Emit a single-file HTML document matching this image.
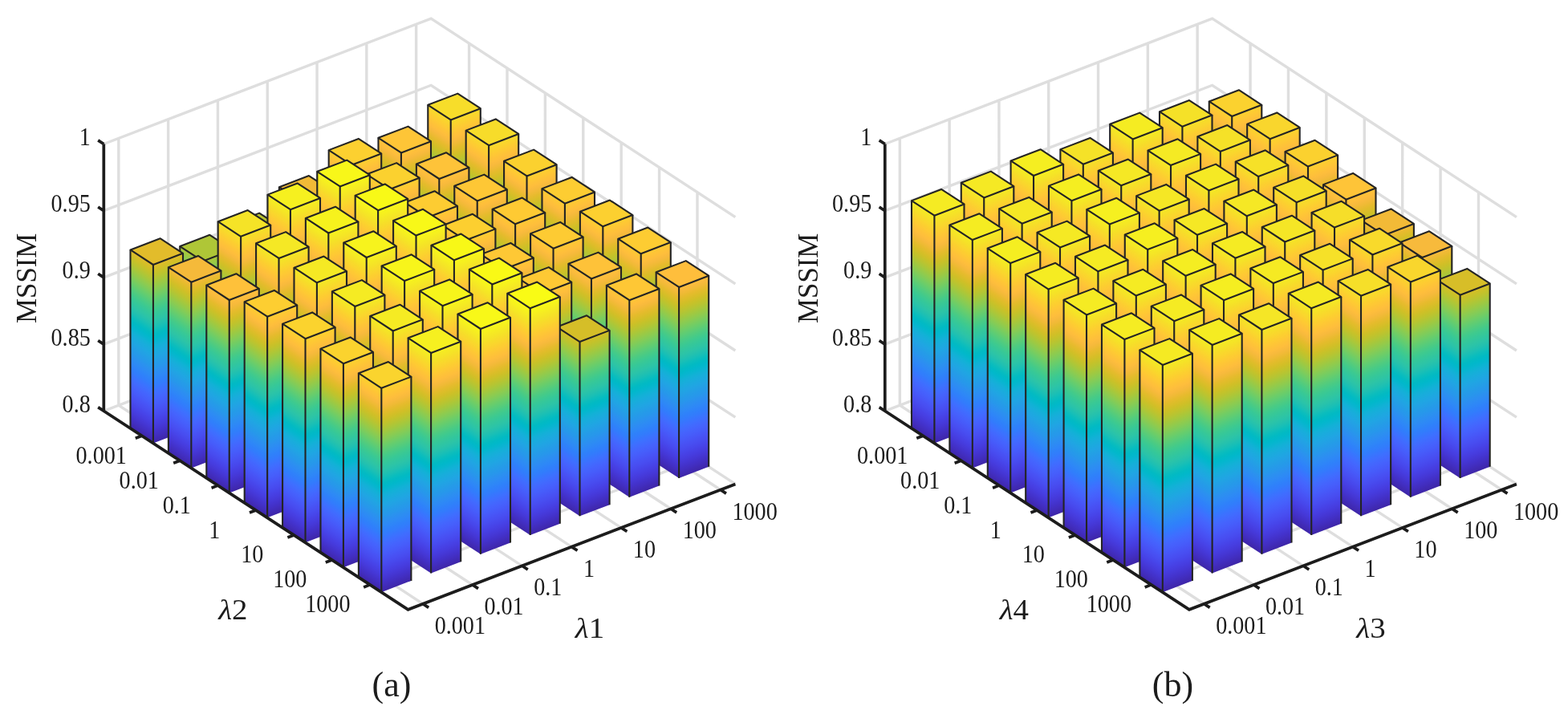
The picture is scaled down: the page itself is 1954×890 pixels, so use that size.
<!DOCTYPE html>
<html lang="en"><head><meta charset="utf-8"><title>MSSIM bar charts</title>
<style>html,body{margin:0;padding:0;background:#fff}body{width:1954px;height:890px;overflow:hidden}svg{display:block}.t{font-family:"Liberation Serif",serif;fill:#1c1c1c}.c{font-family:"Liberation Sans",sans-serif;fill:#1c1c1c}.g{stroke:#dedede;stroke-width:3.4;fill:none;stroke-linecap:butt}.a{stroke:#1c1c1c;stroke-width:3.7;fill:none;stroke-linecap:butt;stroke-linejoin:miter}.b .f{stroke:none}.b .e{stroke:#242424;stroke-width:2.1;stroke-linejoin:round;stroke-linecap:butt}</style></head><body>
<svg width="1954" height="890" viewBox="0 0 1954 890" role="img" aria-label="MSSIM 3D bar charts">
<rect width="1954" height="890" fill="#fff"/>
<defs>
<linearGradient id="gLa" gradientUnits="userSpaceOnUse" x1="0" y1="0" x2="129.480" y2="-198.363"><stop offset="0" stop-color="#3e26a8"/><stop offset="0.0159" stop-color="#402ab4"/><stop offset="0.0317" stop-color="#422ec0"/><stop offset="0.0476" stop-color="#4332cb"/><stop offset="0.0635" stop-color="#4537d5"/><stop offset="0.0794" stop-color="#463cde"/><stop offset="0.0952" stop-color="#4741e5"/><stop offset="0.1111" stop-color="#4747eb"/><stop offset="0.127" stop-color="#484df0"/><stop offset="0.1429" stop-color="#4852f4"/><stop offset="0.1587" stop-color="#4758f8"/><stop offset="0.1746" stop-color="#465efb"/><stop offset="0.1905" stop-color="#4563fd"/><stop offset="0.2063" stop-color="#4269fe"/><stop offset="0.2222" stop-color="#3e6fff"/><stop offset="0.2381" stop-color="#3875fe"/><stop offset="0.254" stop-color="#327cfc"/><stop offset="0.2698" stop-color="#2f81fa"/><stop offset="0.2857" stop-color="#2e87f7"/><stop offset="0.3016" stop-color="#2d8cf3"/><stop offset="0.3175" stop-color="#2b91ef"/><stop offset="0.3333" stop-color="#2797eb"/><stop offset="0.3492" stop-color="#259be8"/><stop offset="0.3651" stop-color="#23a0e5"/><stop offset="0.381" stop-color="#20a5e3"/><stop offset="0.3968" stop-color="#1ca9df"/><stop offset="0.4127" stop-color="#18addb"/><stop offset="0.4286" stop-color="#12b1d6"/><stop offset="0.4444" stop-color="#08b5d0"/><stop offset="0.4603" stop-color="#01b8ca"/><stop offset="0.4762" stop-color="#02bac3"/><stop offset="0.4921" stop-color="#0bbdbd"/><stop offset="0.5079" stop-color="#19bfb6"/><stop offset="0.5238" stop-color="#24c1ae"/><stop offset="0.5397" stop-color="#2cc4a7"/><stop offset="0.5556" stop-color="#31c69f"/><stop offset="0.5714" stop-color="#37c897"/><stop offset="0.5873" stop-color="#3fca8e"/><stop offset="0.6032" stop-color="#4acb84"/><stop offset="0.619" stop-color="#57cc7a"/><stop offset="0.6349" stop-color="#64cd6f"/><stop offset="0.6508" stop-color="#72cd64"/><stop offset="0.6667" stop-color="#81cc59"/><stop offset="0.6825" stop-color="#8fcb4e"/><stop offset="0.6984" stop-color="#9dc943"/><stop offset="0.7143" stop-color="#abc739"/><stop offset="0.7302" stop-color="#b9c431"/><stop offset="0.746" stop-color="#c5c22a"/><stop offset="0.7619" stop-color="#d1bf27"/><stop offset="0.7778" stop-color="#dcbd29"/><stop offset="0.7937" stop-color="#e6bb2d"/><stop offset="0.8095" stop-color="#f0ba36"/><stop offset="0.8254" stop-color="#f8ba3d"/><stop offset="0.8413" stop-color="#febe3c"/><stop offset="0.8571" stop-color="#fec338"/><stop offset="0.873" stop-color="#fec934"/><stop offset="0.8889" stop-color="#fccf30"/><stop offset="0.9048" stop-color="#fad62d"/><stop offset="0.9206" stop-color="#f7dc2a"/><stop offset="0.9365" stop-color="#f5e327"/><stop offset="0.9524" stop-color="#f5e924"/><stop offset="0.9683" stop-color="#f6ef20"/><stop offset="0.9841" stop-color="#f7f51b"/><stop offset="1" stop-color="#f9fb15"/></linearGradient>
<linearGradient id="gRa" gradientUnits="userSpaceOnUse" x1="0" y1="0" x2="-94.574" y2="-246.611"><stop offset="0" stop-color="#3e26a8"/><stop offset="0.0159" stop-color="#402ab4"/><stop offset="0.0317" stop-color="#422ec0"/><stop offset="0.0476" stop-color="#4332cb"/><stop offset="0.0635" stop-color="#4537d5"/><stop offset="0.0794" stop-color="#463cde"/><stop offset="0.0952" stop-color="#4741e5"/><stop offset="0.1111" stop-color="#4747eb"/><stop offset="0.127" stop-color="#484df0"/><stop offset="0.1429" stop-color="#4852f4"/><stop offset="0.1587" stop-color="#4758f8"/><stop offset="0.1746" stop-color="#465efb"/><stop offset="0.1905" stop-color="#4563fd"/><stop offset="0.2063" stop-color="#4269fe"/><stop offset="0.2222" stop-color="#3e6fff"/><stop offset="0.2381" stop-color="#3875fe"/><stop offset="0.254" stop-color="#327cfc"/><stop offset="0.2698" stop-color="#2f81fa"/><stop offset="0.2857" stop-color="#2e87f7"/><stop offset="0.3016" stop-color="#2d8cf3"/><stop offset="0.3175" stop-color="#2b91ef"/><stop offset="0.3333" stop-color="#2797eb"/><stop offset="0.3492" stop-color="#259be8"/><stop offset="0.3651" stop-color="#23a0e5"/><stop offset="0.381" stop-color="#20a5e3"/><stop offset="0.3968" stop-color="#1ca9df"/><stop offset="0.4127" stop-color="#18addb"/><stop offset="0.4286" stop-color="#12b1d6"/><stop offset="0.4444" stop-color="#08b5d0"/><stop offset="0.4603" stop-color="#01b8ca"/><stop offset="0.4762" stop-color="#02bac3"/><stop offset="0.4921" stop-color="#0bbdbd"/><stop offset="0.5079" stop-color="#19bfb6"/><stop offset="0.5238" stop-color="#24c1ae"/><stop offset="0.5397" stop-color="#2cc4a7"/><stop offset="0.5556" stop-color="#31c69f"/><stop offset="0.5714" stop-color="#37c897"/><stop offset="0.5873" stop-color="#3fca8e"/><stop offset="0.6032" stop-color="#4acb84"/><stop offset="0.619" stop-color="#57cc7a"/><stop offset="0.6349" stop-color="#64cd6f"/><stop offset="0.6508" stop-color="#72cd64"/><stop offset="0.6667" stop-color="#81cc59"/><stop offset="0.6825" stop-color="#8fcb4e"/><stop offset="0.6984" stop-color="#9dc943"/><stop offset="0.7143" stop-color="#abc739"/><stop offset="0.7302" stop-color="#b9c431"/><stop offset="0.746" stop-color="#c5c22a"/><stop offset="0.7619" stop-color="#d1bf27"/><stop offset="0.7778" stop-color="#dcbd29"/><stop offset="0.7937" stop-color="#e6bb2d"/><stop offset="0.8095" stop-color="#f0ba36"/><stop offset="0.8254" stop-color="#f8ba3d"/><stop offset="0.8413" stop-color="#febe3c"/><stop offset="0.8571" stop-color="#fec338"/><stop offset="0.873" stop-color="#fec934"/><stop offset="0.8889" stop-color="#fccf30"/><stop offset="0.9048" stop-color="#fad62d"/><stop offset="0.9206" stop-color="#f7dc2a"/><stop offset="0.9365" stop-color="#f5e327"/><stop offset="0.9524" stop-color="#f5e924"/><stop offset="0.9683" stop-color="#f6ef20"/><stop offset="0.9841" stop-color="#f7f51b"/><stop offset="1" stop-color="#f9fb15"/></linearGradient>
<linearGradient id="gLb" gradientUnits="userSpaceOnUse" x1="0" y1="0" x2="135.573" y2="-207.698"><stop offset="0" stop-color="#3e26a8"/><stop offset="0.0159" stop-color="#402ab4"/><stop offset="0.0317" stop-color="#422ec0"/><stop offset="0.0476" stop-color="#4332cb"/><stop offset="0.0635" stop-color="#4537d5"/><stop offset="0.0794" stop-color="#463cde"/><stop offset="0.0952" stop-color="#4741e5"/><stop offset="0.1111" stop-color="#4747eb"/><stop offset="0.127" stop-color="#484df0"/><stop offset="0.1429" stop-color="#4852f4"/><stop offset="0.1587" stop-color="#4758f8"/><stop offset="0.1746" stop-color="#465efb"/><stop offset="0.1905" stop-color="#4563fd"/><stop offset="0.2063" stop-color="#4269fe"/><stop offset="0.2222" stop-color="#3e6fff"/><stop offset="0.2381" stop-color="#3875fe"/><stop offset="0.254" stop-color="#327cfc"/><stop offset="0.2698" stop-color="#2f81fa"/><stop offset="0.2857" stop-color="#2e87f7"/><stop offset="0.3016" stop-color="#2d8cf3"/><stop offset="0.3175" stop-color="#2b91ef"/><stop offset="0.3333" stop-color="#2797eb"/><stop offset="0.3492" stop-color="#259be8"/><stop offset="0.3651" stop-color="#23a0e5"/><stop offset="0.381" stop-color="#20a5e3"/><stop offset="0.3968" stop-color="#1ca9df"/><stop offset="0.4127" stop-color="#18addb"/><stop offset="0.4286" stop-color="#12b1d6"/><stop offset="0.4444" stop-color="#08b5d0"/><stop offset="0.4603" stop-color="#01b8ca"/><stop offset="0.4762" stop-color="#02bac3"/><stop offset="0.4921" stop-color="#0bbdbd"/><stop offset="0.5079" stop-color="#19bfb6"/><stop offset="0.5238" stop-color="#24c1ae"/><stop offset="0.5397" stop-color="#2cc4a7"/><stop offset="0.5556" stop-color="#31c69f"/><stop offset="0.5714" stop-color="#37c897"/><stop offset="0.5873" stop-color="#3fca8e"/><stop offset="0.6032" stop-color="#4acb84"/><stop offset="0.619" stop-color="#57cc7a"/><stop offset="0.6349" stop-color="#64cd6f"/><stop offset="0.6508" stop-color="#72cd64"/><stop offset="0.6667" stop-color="#81cc59"/><stop offset="0.6825" stop-color="#8fcb4e"/><stop offset="0.6984" stop-color="#9dc943"/><stop offset="0.7143" stop-color="#abc739"/><stop offset="0.7302" stop-color="#b9c431"/><stop offset="0.746" stop-color="#c5c22a"/><stop offset="0.7619" stop-color="#d1bf27"/><stop offset="0.7778" stop-color="#dcbd29"/><stop offset="0.7937" stop-color="#e6bb2d"/><stop offset="0.8095" stop-color="#f0ba36"/><stop offset="0.8254" stop-color="#f8ba3d"/><stop offset="0.8413" stop-color="#febe3c"/><stop offset="0.8571" stop-color="#fec338"/><stop offset="0.873" stop-color="#fec934"/><stop offset="0.8889" stop-color="#fccf30"/><stop offset="0.9048" stop-color="#fad62d"/><stop offset="0.9206" stop-color="#f7dc2a"/><stop offset="0.9365" stop-color="#f5e327"/><stop offset="0.9524" stop-color="#f5e924"/><stop offset="0.9683" stop-color="#f6ef20"/><stop offset="0.9841" stop-color="#f7f51b"/><stop offset="1" stop-color="#f9fb15"/></linearGradient>
<linearGradient id="gRb" gradientUnits="userSpaceOnUse" x1="0" y1="0" x2="-99.025" y2="-258.216"><stop offset="0" stop-color="#3e26a8"/><stop offset="0.0159" stop-color="#402ab4"/><stop offset="0.0317" stop-color="#422ec0"/><stop offset="0.0476" stop-color="#4332cb"/><stop offset="0.0635" stop-color="#4537d5"/><stop offset="0.0794" stop-color="#463cde"/><stop offset="0.0952" stop-color="#4741e5"/><stop offset="0.1111" stop-color="#4747eb"/><stop offset="0.127" stop-color="#484df0"/><stop offset="0.1429" stop-color="#4852f4"/><stop offset="0.1587" stop-color="#4758f8"/><stop offset="0.1746" stop-color="#465efb"/><stop offset="0.1905" stop-color="#4563fd"/><stop offset="0.2063" stop-color="#4269fe"/><stop offset="0.2222" stop-color="#3e6fff"/><stop offset="0.2381" stop-color="#3875fe"/><stop offset="0.254" stop-color="#327cfc"/><stop offset="0.2698" stop-color="#2f81fa"/><stop offset="0.2857" stop-color="#2e87f7"/><stop offset="0.3016" stop-color="#2d8cf3"/><stop offset="0.3175" stop-color="#2b91ef"/><stop offset="0.3333" stop-color="#2797eb"/><stop offset="0.3492" stop-color="#259be8"/><stop offset="0.3651" stop-color="#23a0e5"/><stop offset="0.381" stop-color="#20a5e3"/><stop offset="0.3968" stop-color="#1ca9df"/><stop offset="0.4127" stop-color="#18addb"/><stop offset="0.4286" stop-color="#12b1d6"/><stop offset="0.4444" stop-color="#08b5d0"/><stop offset="0.4603" stop-color="#01b8ca"/><stop offset="0.4762" stop-color="#02bac3"/><stop offset="0.4921" stop-color="#0bbdbd"/><stop offset="0.5079" stop-color="#19bfb6"/><stop offset="0.5238" stop-color="#24c1ae"/><stop offset="0.5397" stop-color="#2cc4a7"/><stop offset="0.5556" stop-color="#31c69f"/><stop offset="0.5714" stop-color="#37c897"/><stop offset="0.5873" stop-color="#3fca8e"/><stop offset="0.6032" stop-color="#4acb84"/><stop offset="0.619" stop-color="#57cc7a"/><stop offset="0.6349" stop-color="#64cd6f"/><stop offset="0.6508" stop-color="#72cd64"/><stop offset="0.6667" stop-color="#81cc59"/><stop offset="0.6825" stop-color="#8fcb4e"/><stop offset="0.6984" stop-color="#9dc943"/><stop offset="0.7143" stop-color="#abc739"/><stop offset="0.7302" stop-color="#b9c431"/><stop offset="0.746" stop-color="#c5c22a"/><stop offset="0.7619" stop-color="#d1bf27"/><stop offset="0.7778" stop-color="#dcbd29"/><stop offset="0.7937" stop-color="#e6bb2d"/><stop offset="0.8095" stop-color="#f0ba36"/><stop offset="0.8254" stop-color="#f8ba3d"/><stop offset="0.8413" stop-color="#febe3c"/><stop offset="0.8571" stop-color="#fec338"/><stop offset="0.873" stop-color="#fec934"/><stop offset="0.8889" stop-color="#fccf30"/><stop offset="0.9048" stop-color="#fad62d"/><stop offset="0.9206" stop-color="#f7dc2a"/><stop offset="0.9365" stop-color="#f5e327"/><stop offset="0.9524" stop-color="#f5e924"/><stop offset="0.9683" stop-color="#f6ef20"/><stop offset="0.9841" stop-color="#f7f51b"/><stop offset="1" stop-color="#f9fb15"/></linearGradient>
</defs>
<g id="chart-a">
<path class="g" d="M129.3 429.1 L537.18 272.68 L916.38 520.2 M129.3 345.9 L537.18 189.48 L916.38 437 M129.3 262.7 L537.18 106.28 L916.38 353.8 M129.3 179.5 L537.18 23.08 L916.38 270.6 M527.04 752.71 L147.84 505.19 L147.84 172.39 M588.84 729.01 L209.64 481.49 L209.64 148.69 M650.64 705.31 L271.44 457.79 L271.44 124.99 M712.44 681.61 L333.24 434.09 L333.24 101.29 M774.24 657.91 L395.04 410.39 L395.04 77.59 M836.04 634.21 L456.84 386.69 L456.84 53.89 M897.84 610.51 L518.64 362.99 L518.64 30.19 M176.7 543.24 L584.58 386.82 L584.58 54.02 M224.1 574.18 L631.98 417.76 L631.98 84.96 M271.5 605.12 L679.38 448.7 L679.38 115.9 M318.9 636.06 L726.78 479.64 L726.78 146.84 M366.3 667 L774.18 510.58 L774.18 177.78 M413.7 697.94 L821.58 541.52 L821.58 208.72 M461.1 728.88 L868.98 572.46 L868.98 239.66 M129.3 512.3 L537.18 355.88 L916.38 603.4"/>
<g class="b">
<g transform="translate(561.72,410.32)"><path class="f" fill="url(#gLa)" d="M0 0L-28.44 -18.56 L-28.44 -279.49 L0 -260.92 Z"/><path class="f" fill="url(#gRa)" d="M0 0L37.08 -14.22 L37.08 -275.14 L0 -260.92 Z"/><path class="e" fill="#f7dd2a" d="M0 -260.92 L37.08 -275.14 L8.64 -293.71 L-28.44 -279.49 Z"/><path class="e" fill="none" d="M-28.44 -18.56 L-28.44 -279.49 M0 0L0 -260.92 M37.08 -14.22 L37.08 -275.14"/></g>
<g transform="translate(499.92,434.02)"><path class="f" fill="url(#gLa)" d="M0 0L-28.44 -18.56 L-28.44 -262.19 L0 -243.62 Z"/><path class="f" fill="url(#gRa)" d="M0 0L37.08 -14.22 L37.08 -257.84 L0 -243.62 Z"/><path class="e" fill="#fec537" d="M0 -243.62 L37.08 -257.84 L8.64 -276.41 L-28.44 -262.19 Z"/><path class="e" fill="none" d="M-28.44 -18.56 L-28.44 -262.19 M0 0L0 -243.62 M37.08 -14.22 L37.08 -257.84"/></g>
<g transform="translate(438.12,457.72)"><path class="f" fill="url(#gLa)" d="M0 0L-28.44 -18.56 L-28.44 -270.59 L0 -252.02 Z"/><path class="f" fill="url(#gRa)" d="M0 0L37.08 -14.22 L37.08 -266.24 L0 -252.02 Z"/><path class="e" fill="#fcd030" d="M0 -252.02 L37.08 -266.24 L8.64 -284.81 L-28.44 -270.59 Z"/><path class="e" fill="none" d="M-28.44 -18.56 L-28.44 -270.59 M0 0L0 -252.02 M37.08 -14.22 L37.08 -266.24"/></g>
<g transform="translate(376.32,481.42)"><path class="f" fill="url(#gLa)" d="M0 0L-28.44 -18.56 L-28.44 -248.19 L0 -229.62 Z"/><path class="f" fill="url(#gRa)" d="M0 0L37.08 -14.22 L37.08 -243.84 L0 -229.62 Z"/><path class="e" fill="#f1ba37" d="M0 -229.62 L37.08 -243.84 L8.64 -262.41 L-28.44 -248.19 Z"/><path class="e" fill="none" d="M-28.44 -18.56 L-28.44 -248.19 M0 0L0 -229.62 M37.08 -14.22 L37.08 -243.84"/></g>
<g transform="translate(314.52,505.12)"><path class="f" fill="url(#gLa)" d="M0 0L-28.44 -18.56 L-28.44 -225.29 L0 -206.72 Z"/><path class="f" fill="url(#gRa)" d="M0 0L37.08 -14.22 L37.08 -220.94 L0 -206.72 Z"/><path class="e" fill="#b9c430" d="M0 -206.72 L37.08 -220.94 L8.64 -239.51 L-28.44 -225.29 Z"/><path class="e" fill="none" d="M-28.44 -18.56 L-28.44 -225.29 M0 0L0 -206.72 M37.08 -14.22 L37.08 -220.94"/></g>
<g transform="translate(252.72,528.82)"><path class="f" fill="url(#gLa)" d="M0 0L-28.44 -18.56 L-28.44 -221.79 L0 -203.22 Z"/><path class="f" fill="url(#gRa)" d="M0 0L37.08 -14.22 L37.08 -217.44 L0 -203.22 Z"/><path class="e" fill="#afc637" d="M0 -203.22 L37.08 -217.44 L8.64 -236.01 L-28.44 -221.79 Z"/><path class="e" fill="none" d="M-28.44 -18.56 L-28.44 -221.79 M0 0L0 -203.22 M37.08 -14.22 L37.08 -217.44"/></g>
<g transform="translate(190.92,552.52)"><path class="f" fill="url(#gLa)" d="M0 0L-28.44 -18.56 L-28.44 -241.09 L0 -222.52 Z"/><path class="f" fill="url(#gRa)" d="M0 0L37.08 -14.22 L37.08 -236.74 L0 -222.52 Z"/><path class="e" fill="#e2bc2b" d="M0 -222.52 L37.08 -236.74 L8.64 -255.31 L-28.44 -241.09 Z"/><path class="e" fill="none" d="M-28.44 -18.56 L-28.44 -241.09 M0 0L0 -222.52 M37.08 -14.22 L37.08 -236.74"/></g>
<g transform="translate(609.12,441.26)"><path class="f" fill="url(#gLa)" d="M0 0L-28.44 -18.56 L-28.44 -278.63 L0 -260.06 Z"/><path class="f" fill="url(#gRa)" d="M0 0L37.08 -14.22 L37.08 -274.28 L0 -260.06 Z"/><path class="e" fill="#f7dc2a" d="M0 -260.06 L37.08 -274.28 L8.64 -292.85 L-28.44 -278.63 Z"/><path class="e" fill="none" d="M-28.44 -18.56 L-28.44 -278.63 M0 0L0 -260.06 M37.08 -14.22 L37.08 -274.28"/></g>
<g transform="translate(547.32,464.96)"><path class="f" fill="url(#gLa)" d="M0 0L-28.44 -18.56 L-28.44 -260.53 L0 -241.96 Z"/><path class="f" fill="url(#gRa)" d="M0 0L37.08 -14.22 L37.08 -256.18 L0 -241.96 Z"/><path class="e" fill="#fec339" d="M0 -241.96 L37.08 -256.18 L8.64 -274.75 L-28.44 -260.53 Z"/><path class="e" fill="none" d="M-28.44 -18.56 L-28.44 -260.53 M0 0L0 -241.96 M37.08 -14.22 L37.08 -256.18"/></g>
<g transform="translate(485.52,488.66)"><path class="f" fill="url(#gLa)" d="M0 0L-28.44 -18.56 L-28.44 -271.33 L0 -252.76 Z"/><path class="f" fill="url(#gRa)" d="M0 0L37.08 -14.22 L37.08 -266.98 L0 -252.76 Z"/><path class="e" fill="#fbd12f" d="M0 -252.76 L37.08 -266.98 L8.64 -285.55 L-28.44 -271.33 Z"/><path class="e" fill="none" d="M-28.44 -18.56 L-28.44 -271.33 M0 0L0 -252.76 M37.08 -14.22 L37.08 -266.98"/></g>
<g transform="translate(423.72,512.36)"><path class="f" fill="url(#gLa)" d="M0 0L-28.44 -18.56 L-28.44 -298.53 L0 -279.96 Z"/><path class="f" fill="url(#gRa)" d="M0 0L37.08 -14.22 L37.08 -294.18 L0 -279.96 Z"/><path class="e" fill="#f8f719" d="M0 -279.96 L37.08 -294.18 L8.64 -312.75 L-28.44 -298.53 Z"/><path class="e" fill="none" d="M-28.44 -18.56 L-28.44 -298.53 M0 0L0 -279.96 M37.08 -14.22 L37.08 -294.18"/></g>
<g transform="translate(361.92,536.06)"><path class="f" fill="url(#gLa)" d="M0 0L-28.44 -18.56 L-28.44 -293.43 L0 -274.86 Z"/><path class="f" fill="url(#gRa)" d="M0 0L37.08 -14.22 L37.08 -289.08 L0 -274.86 Z"/><path class="e" fill="#f6f01f" d="M0 -274.86 L37.08 -289.08 L8.64 -307.65 L-28.44 -293.43 Z"/><path class="e" fill="none" d="M-28.44 -18.56 L-28.44 -293.43 M0 0L0 -274.86 M37.08 -14.22 L37.08 -289.08"/></g>
<g transform="translate(300.12,559.76)"><path class="f" fill="url(#gLa)" d="M0 0L-28.44 -18.56 L-28.44 -283.53 L0 -264.96 Z"/><path class="f" fill="url(#gRa)" d="M0 0L37.08 -14.22 L37.08 -279.18 L0 -264.96 Z"/><path class="e" fill="#f5e327" d="M0 -264.96 L37.08 -279.18 L8.64 -297.75 L-28.44 -283.53 Z"/><path class="e" fill="none" d="M-28.44 -18.56 L-28.44 -283.53 M0 0L0 -264.96 M37.08 -14.22 L37.08 -279.18"/></g>
<g transform="translate(238.32,583.46)"><path class="f" fill="url(#gLa)" d="M0 0L-28.44 -18.56 L-28.44 -250.33 L0 -231.76 Z"/><path class="f" fill="url(#gRa)" d="M0 0L37.08 -14.22 L37.08 -245.98 L0 -231.76 Z"/><path class="e" fill="#f5ba3a" d="M0 -231.76 L37.08 -245.98 L8.64 -264.55 L-28.44 -250.33 Z"/><path class="e" fill="none" d="M-28.44 -18.56 L-28.44 -250.33 M0 0L0 -231.76 M37.08 -14.22 L37.08 -245.98"/></g>
<g transform="translate(656.52,472.2)"><path class="f" fill="url(#gLa)" d="M0 0L-28.44 -18.56 L-28.44 -271.37 L0 -252.8 Z"/><path class="f" fill="url(#gRa)" d="M0 0L37.08 -14.22 L37.08 -267.02 L0 -252.8 Z"/><path class="e" fill="#fbd12f" d="M0 -252.8 L37.08 -267.02 L8.64 -285.59 L-28.44 -271.37 Z"/><path class="e" fill="none" d="M-28.44 -18.56 L-28.44 -271.37 M0 0L0 -252.8 M37.08 -14.22 L37.08 -267.02"/></g>
<g transform="translate(594.72,495.9)"><path class="f" fill="url(#gLa)" d="M0 0L-28.44 -18.56 L-28.44 -264.07 L0 -245.5 Z"/><path class="f" fill="url(#gRa)" d="M0 0L37.08 -14.22 L37.08 -259.72 L0 -245.5 Z"/><path class="e" fill="#fec735" d="M0 -245.5 L37.08 -259.72 L8.64 -278.29 L-28.44 -264.07 Z"/><path class="e" fill="none" d="M-28.44 -18.56 L-28.44 -264.07 M0 0L0 -245.5 M37.08 -14.22 L37.08 -259.72"/></g>
<g transform="translate(532.92,519.6)"><path class="f" fill="url(#gLa)" d="M0 0L-28.44 -18.56 L-28.44 -267.17 L0 -248.6 Z"/><path class="f" fill="url(#gRa)" d="M0 0L37.08 -14.22 L37.08 -262.82 L0 -248.6 Z"/><path class="e" fill="#fdcc32" d="M0 -248.6 L37.08 -262.82 L8.64 -281.39 L-28.44 -267.17 Z"/><path class="e" fill="none" d="M-28.44 -18.56 L-28.44 -267.17 M0 0L0 -248.6 M37.08 -14.22 L37.08 -262.82"/></g>
<g transform="translate(471.12,543.3)"><path class="f" fill="url(#gLa)" d="M0 0L-28.44 -18.56 L-28.44 -299.67 L0 -281.1 Z"/><path class="f" fill="url(#gRa)" d="M0 0L37.08 -14.22 L37.08 -295.32 L0 -281.1 Z"/><path class="e" fill="#f8f917" d="M0 -281.1 L37.08 -295.32 L8.64 -313.89 L-28.44 -299.67 Z"/><path class="e" fill="none" d="M-28.44 -18.56 L-28.44 -299.67 M0 0L0 -281.1 M37.08 -14.22 L37.08 -295.32"/></g>
<g transform="translate(409.32,567)"><path class="f" fill="url(#gLa)" d="M0 0L-28.44 -18.56 L-28.44 -295.07 L0 -276.5 Z"/><path class="f" fill="url(#gRa)" d="M0 0L37.08 -14.22 L37.08 -290.72 L0 -276.5 Z"/><path class="e" fill="#f6f21d" d="M0 -276.5 L37.08 -290.72 L8.64 -309.29 L-28.44 -295.07 Z"/><path class="e" fill="none" d="M-28.44 -18.56 L-28.44 -295.07 M0 0L0 -276.5 M37.08 -14.22 L37.08 -290.72"/></g>
<g transform="translate(347.52,590.7)"><path class="f" fill="url(#gLa)" d="M0 0L-28.44 -18.56 L-28.44 -287.37 L0 -268.8 Z"/><path class="f" fill="url(#gRa)" d="M0 0L37.08 -14.22 L37.08 -283.02 L0 -268.8 Z"/><path class="e" fill="#f5e825" d="M0 -268.8 L37.08 -283.02 L8.64 -301.59 L-28.44 -287.37 Z"/><path class="e" fill="none" d="M-28.44 -18.56 L-28.44 -287.37 M0 0L0 -268.8 M37.08 -14.22 L37.08 -283.02"/></g>
<g transform="translate(285.72,614.4)"><path class="f" fill="url(#gLa)" d="M0 0L-28.44 -18.56 L-28.44 -258.97 L0 -240.4 Z"/><path class="f" fill="url(#gRa)" d="M0 0L37.08 -14.22 L37.08 -254.62 L0 -240.4 Z"/><path class="e" fill="#fec13a" d="M0 -240.4 L37.08 -254.62 L8.64 -273.19 L-28.44 -258.97 Z"/><path class="e" fill="none" d="M-28.44 -18.56 L-28.44 -258.97 M0 0L0 -240.4 M37.08 -14.22 L37.08 -254.62"/></g>
<g transform="translate(703.92,503.14)"><path class="f" fill="url(#gLa)" d="M0 0L-28.44 -18.56 L-28.44 -268.01 L0 -249.44 Z"/><path class="f" fill="url(#gRa)" d="M0 0L37.08 -14.22 L37.08 -263.66 L0 -249.44 Z"/><path class="e" fill="#fdcd32" d="M0 -249.44 L37.08 -263.66 L8.64 -282.23 L-28.44 -268.01 Z"/><path class="e" fill="none" d="M-28.44 -18.56 L-28.44 -268.01 M0 0L0 -249.44 M37.08 -14.22 L37.08 -263.66"/></g>
<g transform="translate(642.12,526.84)"><path class="f" fill="url(#gLa)" d="M0 0L-28.44 -18.56 L-28.44 -266.11 L0 -247.54 Z"/><path class="f" fill="url(#gRa)" d="M0 0L37.08 -14.22 L37.08 -261.76 L0 -247.54 Z"/><path class="e" fill="#feca33" d="M0 -247.54 L37.08 -261.76 L8.64 -280.33 L-28.44 -266.11 Z"/><path class="e" fill="none" d="M-28.44 -18.56 L-28.44 -266.11 M0 0L0 -247.54 M37.08 -14.22 L37.08 -261.76"/></g>
<g transform="translate(580.32,550.54)"><path class="f" fill="url(#gLa)" d="M0 0L-28.44 -18.56 L-28.44 -269.51 L0 -250.94 Z"/><path class="f" fill="url(#gRa)" d="M0 0L37.08 -14.22 L37.08 -265.16 L0 -250.94 Z"/><path class="e" fill="#fccf30" d="M0 -250.94 L37.08 -265.16 L8.64 -283.73 L-28.44 -269.51 Z"/><path class="e" fill="none" d="M-28.44 -18.56 L-28.44 -269.51 M0 0L0 -250.94 M37.08 -14.22 L37.08 -265.16"/></g>
<g transform="translate(518.52,574.24)"><path class="f" fill="url(#gLa)" d="M0 0L-28.44 -18.56 L-28.44 -299.21 L0 -280.64 Z"/><path class="f" fill="url(#gRa)" d="M0 0L37.08 -14.22 L37.08 -294.86 L0 -280.64 Z"/><path class="e" fill="#f8f818" d="M0 -280.64 L37.08 -294.86 L8.64 -313.43 L-28.44 -299.21 Z"/><path class="e" fill="none" d="M-28.44 -18.56 L-28.44 -299.21 M0 0L0 -280.64 M37.08 -14.22 L37.08 -294.86"/></g>
<g transform="translate(456.72,597.94)"><path class="f" fill="url(#gLa)" d="M0 0L-28.44 -18.56 L-28.44 -295.51 L0 -276.94 Z"/><path class="f" fill="url(#gRa)" d="M0 0L37.08 -14.22 L37.08 -291.16 L0 -276.94 Z"/><path class="e" fill="#f7f31d" d="M0 -276.94 L37.08 -291.16 L8.64 -309.73 L-28.44 -295.51 Z"/><path class="e" fill="none" d="M-28.44 -18.56 L-28.44 -295.51 M0 0L0 -276.94 M37.08 -14.22 L37.08 -291.16"/></g>
<g transform="translate(394.92,621.64)"><path class="f" fill="url(#gLa)" d="M0 0L-28.44 -18.56 L-28.44 -287.91 L0 -269.34 Z"/><path class="f" fill="url(#gRa)" d="M0 0L37.08 -14.22 L37.08 -283.56 L0 -269.34 Z"/><path class="e" fill="#f5e924" d="M0 -269.34 L37.08 -283.56 L8.64 -302.13 L-28.44 -287.91 Z"/><path class="e" fill="none" d="M-28.44 -18.56 L-28.44 -287.91 M0 0L0 -269.34 M37.08 -14.22 L37.08 -283.56"/></g>
<g transform="translate(333.12,645.34)"><path class="f" fill="url(#gLa)" d="M0 0L-28.44 -18.56 L-28.44 -269.21 L0 -250.64 Z"/><path class="f" fill="url(#gRa)" d="M0 0L37.08 -14.22 L37.08 -264.86 L0 -250.64 Z"/><path class="e" fill="#fdce31" d="M0 -250.64 L37.08 -264.86 L8.64 -283.43 L-28.44 -269.21 Z"/><path class="e" fill="none" d="M-28.44 -18.56 L-28.44 -269.21 M0 0L0 -250.64 M37.08 -14.22 L37.08 -264.86"/></g>
<g transform="translate(751.32,534.08)"><path class="f" fill="url(#gLa)" d="M0 0L-28.44 -18.56 L-28.44 -270.35 L0 -251.78 Z"/><path class="f" fill="url(#gRa)" d="M0 0L37.08 -14.22 L37.08 -266 L0 -251.78 Z"/><path class="e" fill="#fcd030" d="M0 -251.78 L37.08 -266 L8.64 -284.57 L-28.44 -270.35 Z"/><path class="e" fill="none" d="M-28.44 -18.56 L-28.44 -270.35 M0 0L0 -251.78 M37.08 -14.22 L37.08 -266"/></g>
<g transform="translate(689.52,557.78)"><path class="f" fill="url(#gLa)" d="M0 0L-28.44 -18.56 L-28.44 -266.65 L0 -248.08 Z"/><path class="f" fill="url(#gRa)" d="M0 0L37.08 -14.22 L37.08 -262.3 L0 -248.08 Z"/><path class="e" fill="#fdcb33" d="M0 -248.08 L37.08 -262.3 L8.64 -280.87 L-28.44 -266.65 Z"/><path class="e" fill="none" d="M-28.44 -18.56 L-28.44 -266.65 M0 0L0 -248.08 M37.08 -14.22 L37.08 -262.3"/></g>
<g transform="translate(627.72,581.48)"><path class="f" fill="url(#gLa)" d="M0 0L-28.44 -18.56 L-28.44 -264.35 L0 -245.78 Z"/><path class="f" fill="url(#gRa)" d="M0 0L37.08 -14.22 L37.08 -260 L0 -245.78 Z"/><path class="e" fill="#fec835" d="M0 -245.78 L37.08 -260 L8.64 -278.57 L-28.44 -264.35 Z"/><path class="e" fill="none" d="M-28.44 -18.56 L-28.44 -264.35 M0 0L0 -245.78 M37.08 -14.22 L37.08 -260"/></g>
<g transform="translate(565.92,605.18)"><path class="f" fill="url(#gLa)" d="M0 0L-28.44 -18.56 L-28.44 -299.45 L0 -280.88 Z"/><path class="f" fill="url(#gRa)" d="M0 0L37.08 -14.22 L37.08 -295.1 L0 -280.88 Z"/><path class="e" fill="#f8f817" d="M0 -280.88 L37.08 -295.1 L8.64 -313.67 L-28.44 -299.45 Z"/><path class="e" fill="none" d="M-28.44 -18.56 L-28.44 -299.45 M0 0L0 -280.88 M37.08 -14.22 L37.08 -295.1"/></g>
<g transform="translate(504.12,628.88)"><path class="f" fill="url(#gLa)" d="M0 0L-28.44 -18.56 L-28.44 -297.35 L0 -278.78 Z"/><path class="f" fill="url(#gRa)" d="M0 0L37.08 -14.22 L37.08 -293 L0 -278.78 Z"/><path class="e" fill="#f7f51b" d="M0 -278.78 L37.08 -293 L8.64 -311.57 L-28.44 -297.35 Z"/><path class="e" fill="none" d="M-28.44 -18.56 L-28.44 -297.35 M0 0L0 -278.78 M37.08 -14.22 L37.08 -293"/></g>
<g transform="translate(442.32,652.58)"><path class="f" fill="url(#gLa)" d="M0 0L-28.44 -18.56 L-28.44 -289.25 L0 -270.68 Z"/><path class="f" fill="url(#gRa)" d="M0 0L37.08 -14.22 L37.08 -284.9 L0 -270.68 Z"/><path class="e" fill="#f5eb23" d="M0 -270.68 L37.08 -284.9 L8.64 -303.47 L-28.44 -289.25 Z"/><path class="e" fill="none" d="M-28.44 -18.56 L-28.44 -289.25 M0 0L0 -270.68 M37.08 -14.22 L37.08 -284.9"/></g>
<g transform="translate(380.52,676.28)"><path class="f" fill="url(#gLa)" d="M0 0L-28.44 -18.56 L-28.44 -272.65 L0 -254.08 Z"/><path class="f" fill="url(#gRa)" d="M0 0L37.08 -14.22 L37.08 -268.3 L0 -254.08 Z"/><path class="e" fill="#fbd32e" d="M0 -254.08 L37.08 -268.3 L8.64 -286.87 L-28.44 -272.65 Z"/><path class="e" fill="none" d="M-28.44 -18.56 L-28.44 -272.65 M0 0L0 -254.08 M37.08 -14.22 L37.08 -268.3"/></g>
<g transform="translate(798.72,565.02)"><path class="f" fill="url(#gLa)" d="M0 0L-28.44 -18.56 L-28.44 -267.29 L0 -248.72 Z"/><path class="f" fill="url(#gRa)" d="M0 0L37.08 -14.22 L37.08 -262.94 L0 -248.72 Z"/><path class="e" fill="#fdcc32" d="M0 -248.72 L37.08 -262.94 L8.64 -281.51 L-28.44 -267.29 Z"/><path class="e" fill="none" d="M-28.44 -18.56 L-28.44 -267.29 M0 0L0 -248.72 M37.08 -14.22 L37.08 -262.94"/></g>
<g transform="translate(736.92,588.72)"><path class="f" fill="url(#gLa)" d="M0 0L-28.44 -18.56 L-28.44 -259.89 L0 -241.32 Z"/><path class="f" fill="url(#gRa)" d="M0 0L37.08 -14.22 L37.08 -255.54 L0 -241.32 Z"/><path class="e" fill="#fec239" d="M0 -241.32 L37.08 -255.54 L8.64 -274.11 L-28.44 -259.89 Z"/><path class="e" fill="none" d="M-28.44 -18.56 L-28.44 -259.89 M0 0L0 -241.32 M37.08 -14.22 L37.08 -255.54"/></g>
<g transform="translate(675.12,612.42)"><path class="f" fill="url(#gLa)" d="M0 0L-28.44 -18.56 L-28.44 -265.09 L0 -246.52 Z"/><path class="f" fill="url(#gRa)" d="M0 0L37.08 -14.22 L37.08 -260.74 L0 -246.52 Z"/><path class="e" fill="#fec934" d="M0 -246.52 L37.08 -260.74 L8.64 -279.31 L-28.44 -265.09 Z"/><path class="e" fill="none" d="M-28.44 -18.56 L-28.44 -265.09 M0 0L0 -246.52 M37.08 -14.22 L37.08 -260.74"/></g>
<g transform="translate(613.32,636.12)"><path class="f" fill="url(#gLa)" d="M0 0L-28.44 -18.56 L-28.44 -300.29 L0 -281.72 Z"/><path class="f" fill="url(#gRa)" d="M0 0L37.08 -14.22 L37.08 -295.94 L0 -281.72 Z"/><path class="e" fill="#f9f916" d="M0 -281.72 L37.08 -295.94 L8.64 -314.51 L-28.44 -300.29 Z"/><path class="e" fill="none" d="M-28.44 -18.56 L-28.44 -300.29 M0 0L0 -281.72 M37.08 -14.22 L37.08 -295.94"/></g>
<g transform="translate(551.52,659.82)"><path class="f" fill="url(#gLa)" d="M0 0L-28.44 -18.56 L-28.44 -297.19 L0 -278.62 Z"/><path class="f" fill="url(#gRa)" d="M0 0L37.08 -14.22 L37.08 -292.84 L0 -278.62 Z"/><path class="e" fill="#f7f51b" d="M0 -278.62 L37.08 -292.84 L8.64 -311.41 L-28.44 -297.19 Z"/><path class="e" fill="none" d="M-28.44 -18.56 L-28.44 -297.19 M0 0L0 -278.62 M37.08 -14.22 L37.08 -292.84"/></g>
<g transform="translate(489.72,683.52)"><path class="f" fill="url(#gLa)" d="M0 0L-28.44 -18.56 L-28.44 -289.59 L0 -271.02 Z"/><path class="f" fill="url(#gRa)" d="M0 0L37.08 -14.22 L37.08 -285.24 L0 -271.02 Z"/><path class="e" fill="#f5eb23" d="M0 -271.02 L37.08 -285.24 L8.64 -303.81 L-28.44 -289.59 Z"/><path class="e" fill="none" d="M-28.44 -18.56 L-28.44 -289.59 M0 0L0 -271.02 M37.08 -14.22 L37.08 -285.24"/></g>
<g transform="translate(427.92,707.22)"><path class="f" fill="url(#gLa)" d="M0 0L-28.44 -18.56 L-28.44 -272.59 L0 -254.02 Z"/><path class="f" fill="url(#gRa)" d="M0 0L37.08 -14.22 L37.08 -268.24 L0 -254.02 Z"/><path class="e" fill="#fbd32e" d="M0 -254.02 L37.08 -268.24 L8.64 -286.81 L-28.44 -272.59 Z"/><path class="e" fill="none" d="M-28.44 -18.56 L-28.44 -272.59 M0 0L0 -254.02 M37.08 -14.22 L37.08 -268.24"/></g>
<g transform="translate(846.12,595.96)"><path class="f" fill="url(#gLa)" d="M0 0L-28.44 -18.56 L-28.44 -256.63 L0 -238.06 Z"/><path class="f" fill="url(#gRa)" d="M0 0L37.08 -14.22 L37.08 -252.28 L0 -238.06 Z"/><path class="e" fill="#febe3c" d="M0 -238.06 L37.08 -252.28 L8.64 -270.85 L-28.44 -256.63 Z"/><path class="e" fill="none" d="M-28.44 -18.56 L-28.44 -256.63 M0 0L0 -238.06 M37.08 -14.22 L37.08 -252.28"/></g>
<g transform="translate(784.32,619.66)"><path class="f" fill="url(#gLa)" d="M0 0L-28.44 -18.56 L-28.44 -264.03 L0 -245.46 Z"/><path class="f" fill="url(#gRa)" d="M0 0L37.08 -14.22 L37.08 -259.68 L0 -245.46 Z"/><path class="e" fill="#fec735" d="M0 -245.46 L37.08 -259.68 L8.64 -278.25 L-28.44 -264.03 Z"/><path class="e" fill="none" d="M-28.44 -18.56 L-28.44 -264.03 M0 0L0 -245.46 M37.08 -14.22 L37.08 -259.68"/></g>
<g transform="translate(722.52,643.36)"><path class="f" fill="url(#gLa)" d="M0 0L-28.44 -18.56 L-28.44 -235.83 L0 -217.26 Z"/><path class="f" fill="url(#gRa)" d="M0 0L37.08 -14.22 L37.08 -231.48 L0 -217.26 Z"/><path class="e" fill="#d5be28" d="M0 -217.26 L37.08 -231.48 L8.64 -250.05 L-28.44 -235.83 Z"/><path class="e" fill="none" d="M-28.44 -18.56 L-28.44 -235.83 M0 0L0 -217.26 M37.08 -14.22 L37.08 -231.48"/></g>
<g transform="translate(660.72,667.06)"><path class="f" fill="url(#gLa)" d="M0 0L-28.44 -18.56 L-28.44 -301.33 L0 -282.76 Z"/><path class="f" fill="url(#gRa)" d="M0 0L37.08 -14.22 L37.08 -296.98 L0 -282.76 Z"/><path class="e" fill="#f9fb15" d="M0 -282.76 L37.08 -296.98 L8.64 -315.55 L-28.44 -301.33 Z"/><path class="e" fill="none" d="M-28.44 -18.56 L-28.44 -301.33 M0 0L0 -282.76 M37.08 -14.22 L37.08 -296.98"/></g>
<g transform="translate(598.92,690.76)"><path class="f" fill="url(#gLa)" d="M0 0L-28.44 -18.56 L-28.44 -299.33 L0 -280.76 Z"/><path class="f" fill="url(#gRa)" d="M0 0L37.08 -14.22 L37.08 -294.98 L0 -280.76 Z"/><path class="e" fill="#f8f818" d="M0 -280.76 L37.08 -294.98 L8.64 -313.55 L-28.44 -299.33 Z"/><path class="e" fill="none" d="M-28.44 -18.56 L-28.44 -299.33 M0 0L0 -280.76 M37.08 -14.22 L37.08 -294.98"/></g>
<g transform="translate(537.12,714.46)"><path class="f" fill="url(#gLa)" d="M0 0L-28.44 -18.56 L-28.44 -293.13 L0 -274.56 Z"/><path class="f" fill="url(#gRa)" d="M0 0L37.08 -14.22 L37.08 -288.78 L0 -274.56 Z"/><path class="e" fill="#f6f020" d="M0 -274.56 L37.08 -288.78 L8.64 -307.35 L-28.44 -293.13 Z"/><path class="e" fill="none" d="M-28.44 -18.56 L-28.44 -293.13 M0 0L0 -274.56 M37.08 -14.22 L37.08 -288.78"/></g>
<g transform="translate(475.32,738.16)"><path class="f" fill="url(#gLa)" d="M0 0L-28.44 -18.56 L-28.44 -272.93 L0 -254.36 Z"/><path class="f" fill="url(#gRa)" d="M0 0L37.08 -14.22 L37.08 -268.58 L0 -254.36 Z"/><path class="e" fill="#fad42e" d="M0 -254.36 L37.08 -268.58 L8.64 -287.15 L-28.44 -272.93 Z"/><path class="e" fill="none" d="M-28.44 -18.56 L-28.44 -272.93 M0 0L0 -254.36 M37.08 -14.22 L37.08 -268.58"/></g>
</g>
<path class="a" d="M129.3 179.5 L129.3 512.3 L508.5 759.82 L916.38 603.4 M129.3 512.3 L122.18 507.65 M129.3 429.1 L122.18 424.45 M129.3 345.9 L122.18 341.25 M129.3 262.7 L122.18 258.05 M129.3 179.5 L122.18 174.85 M176.7 543.24 L168.76 546.28 M224.1 574.18 L216.16 577.22 M271.5 605.12 L263.56 608.16 M318.9 636.06 L310.96 639.1 M366.3 667 L358.36 670.04 M413.7 697.94 L405.76 700.98 M461.1 728.88 L453.16 731.92 M527.04 752.71 L534.16 757.36 M588.84 729.01 L595.96 733.66 M650.64 705.31 L657.76 709.96 M712.44 681.61 L719.56 686.26 M774.24 657.91 L781.36 662.56 M836.04 634.21 L843.16 638.86 M897.84 610.51 L904.96 615.16"/>
<text class="t" transform="translate(112.8,513.8) scale(0.880,1)" font-size="32" text-anchor="end">0.8</text>
<text class="t" transform="translate(112.8,430.6) scale(0.880,1)" font-size="32" text-anchor="end">0.85</text>
<text class="t" transform="translate(112.8,347.4) scale(0.880,1)" font-size="32" text-anchor="end">0.9</text>
<text class="t" transform="translate(112.8,264.2) scale(0.880,1)" font-size="32" text-anchor="end">0.95</text>
<text class="t" transform="translate(112.8,181) scale(0.880,1)" font-size="32" text-anchor="end">1</text>
<text class="t" transform="translate(126.2,578.14) scale(0.880,1)" font-size="32" text-anchor="middle">0.001</text>
<text class="t" transform="translate(173.22,608.93) scale(0.880,1)" font-size="32" text-anchor="middle">0.01</text>
<text class="t" transform="translate(220.24,639.72) scale(0.880,1)" font-size="32" text-anchor="middle">0.1</text>
<text class="t" transform="translate(267.26,670.51) scale(0.880,1)" font-size="32" text-anchor="middle">1</text>
<text class="t" transform="translate(314.28,701.3) scale(0.880,1)" font-size="32" text-anchor="middle">10</text>
<text class="t" transform="translate(361.3,732.09) scale(0.880,1)" font-size="32" text-anchor="middle">100</text>
<text class="t" transform="translate(408.32,762.88) scale(0.880,1)" font-size="32" text-anchor="middle">1000</text>
<text class="t" transform="translate(541.64,789.71) scale(0.880,1)" font-size="32" text-anchor="start">0.001</text>
<text class="t" transform="translate(603.44,766.01) scale(0.880,1)" font-size="32" text-anchor="start">0.01</text>
<text class="t" transform="translate(665.24,742.31) scale(0.880,1)" font-size="32" text-anchor="start">0.1</text>
<text class="t" transform="translate(727.04,718.61) scale(0.880,1)" font-size="32" text-anchor="start">1</text>
<text class="t" transform="translate(788.84,694.91) scale(0.880,1)" font-size="32" text-anchor="start">10</text>
<text class="t" transform="translate(850.64,671.21) scale(0.880,1)" font-size="32" text-anchor="start">100</text>
<text class="t" transform="translate(912.44,647.51) scale(0.880,1)" font-size="32" text-anchor="start">1000</text>
<text class="t" transform="translate(735,794.8) scale(1.080,1)" font-size="36" text-anchor="middle"><tspan font-style="italic">λ</tspan>1</text>
<text class="t" transform="translate(290.4,771.9) scale(1.080,1)" font-size="36" text-anchor="middle"><tspan font-style="italic">λ</tspan>2</text>
<text class="t" transform="translate(45.3,346.8) rotate(-90)" font-size="34.8" text-anchor="middle">MSSIM</text>
<text class="t" x="488" y="868.1" font-size="44" text-anchor="middle">(a)</text>
</g>
<g id="chart-b">
<path class="g" d="M1102.8 429.1 L1510.68 272.68 L1889.88 520.2 M1102.8 345.9 L1510.68 189.48 L1889.88 437 M1102.8 262.7 L1510.68 106.28 L1889.88 353.8 M1102.8 179.5 L1510.68 23.08 L1889.88 270.6 M1500.54 752.71 L1121.34 505.19 L1121.34 172.39 M1562.34 729.01 L1183.14 481.49 L1183.14 148.69 M1624.14 705.31 L1244.94 457.79 L1244.94 124.99 M1685.94 681.61 L1306.74 434.09 L1306.74 101.29 M1747.74 657.91 L1368.54 410.39 L1368.54 77.59 M1809.54 634.21 L1430.34 386.69 L1430.34 53.89 M1871.34 610.51 L1492.14 362.99 L1492.14 30.19 M1150.2 543.24 L1558.08 386.82 L1558.08 54.02 M1197.6 574.18 L1605.48 417.76 L1605.48 84.96 M1245 605.12 L1652.88 448.7 L1652.88 115.9 M1292.4 636.06 L1700.28 479.64 L1700.28 146.84 M1339.8 667 L1747.68 510.58 L1747.68 177.78 M1387.2 697.94 L1795.08 541.52 L1795.08 208.72 M1434.6 728.88 L1842.48 572.46 L1842.48 239.66 M1102.8 512.3 L1510.68 355.88 L1889.88 603.4"/>
<g class="b">
<g transform="translate(1535.22,410.32)"><path class="f" fill="url(#gLb)" d="M0 0L-28.44 -18.56 L-28.44 -283.89 L0 -265.32 Z"/><path class="f" fill="url(#gRb)" d="M0 0L37.08 -14.22 L37.08 -279.54 L0 -265.32 Z"/><path class="e" fill="#fbd22f" d="M0 -265.32 L37.08 -279.54 L8.64 -298.11 L-28.44 -283.89 Z"/><path class="e" fill="none" d="M-28.44 -18.56 L-28.44 -283.89 M0 0L0 -265.32 M37.08 -14.22 L37.08 -279.54"/></g>
<g transform="translate(1473.42,434.02)"><path class="f" fill="url(#gLb)" d="M0 0L-28.44 -18.56 L-28.44 -294.79 L0 -276.22 Z"/><path class="f" fill="url(#gRb)" d="M0 0L37.08 -14.22 L37.08 -290.44 L0 -276.22 Z"/><path class="e" fill="#f5e128" d="M0 -276.22 L37.08 -290.44 L8.64 -309.01 L-28.44 -294.79 Z"/><path class="e" fill="none" d="M-28.44 -18.56 L-28.44 -294.79 M0 0L0 -276.22 M37.08 -14.22 L37.08 -290.44"/></g>
<g transform="translate(1411.62,457.72)"><path class="f" fill="url(#gLb)" d="M0 0L-28.44 -18.56 L-28.44 -302.89 L0 -284.32 Z"/><path class="f" fill="url(#gRb)" d="M0 0L37.08 -14.22 L37.08 -298.54 L0 -284.32 Z"/><path class="e" fill="#f5ec22" d="M0 -284.32 L37.08 -298.54 L8.64 -317.11 L-28.44 -302.89 Z"/><path class="e" fill="none" d="M-28.44 -18.56 L-28.44 -302.89 M0 0L0 -284.32 M37.08 -14.22 L37.08 -298.54"/></g>
<g transform="translate(1349.82,481.42)"><path class="f" fill="url(#gLb)" d="M0 0L-28.44 -18.56 L-28.44 -295.29 L0 -276.72 Z"/><path class="f" fill="url(#gRb)" d="M0 0L37.08 -14.22 L37.08 -290.94 L0 -276.72 Z"/><path class="e" fill="#f5e228" d="M0 -276.72 L37.08 -290.94 L8.64 -309.51 L-28.44 -295.29 Z"/><path class="e" fill="none" d="M-28.44 -18.56 L-28.44 -295.29 M0 0L0 -276.72 M37.08 -14.22 L37.08 -290.94"/></g>
<g transform="translate(1288.02,505.12)"><path class="f" fill="url(#gLb)" d="M0 0L-28.44 -18.56 L-28.44 -304.69 L0 -286.12 Z"/><path class="f" fill="url(#gRb)" d="M0 0L37.08 -14.22 L37.08 -300.34 L0 -286.12 Z"/><path class="e" fill="#f5ee21" d="M0 -286.12 L37.08 -300.34 L8.64 -318.91 L-28.44 -304.69 Z"/><path class="e" fill="none" d="M-28.44 -18.56 L-28.44 -304.69 M0 0L0 -286.12 M37.08 -14.22 L37.08 -300.34"/></g>
<g transform="translate(1226.22,528.82)"><path class="f" fill="url(#gLb)" d="M0 0L-28.44 -18.56 L-28.44 -300.99 L0 -282.42 Z"/><path class="f" fill="url(#gRb)" d="M0 0L37.08 -14.22 L37.08 -296.64 L0 -282.42 Z"/><path class="e" fill="#f5e924" d="M0 -282.42 L37.08 -296.64 L8.64 -315.21 L-28.44 -300.99 Z"/><path class="e" fill="none" d="M-28.44 -18.56 L-28.44 -300.99 M0 0L0 -282.42 M37.08 -14.22 L37.08 -296.64"/></g>
<g transform="translate(1164.42,552.52)"><path class="f" fill="url(#gLb)" d="M0 0L-28.44 -18.56 L-28.44 -302.39 L0 -283.82 Z"/><path class="f" fill="url(#gRb)" d="M0 0L37.08 -14.22 L37.08 -298.04 L0 -283.82 Z"/><path class="e" fill="#f5eb23" d="M0 -283.82 L37.08 -298.04 L8.64 -316.61 L-28.44 -302.39 Z"/><path class="e" fill="none" d="M-28.44 -18.56 L-28.44 -302.39 M0 0L0 -283.82 M37.08 -14.22 L37.08 -298.04"/></g>
<g transform="translate(1582.62,441.26)"><path class="f" fill="url(#gLb)" d="M0 0L-28.44 -18.56 L-28.44 -286.63 L0 -268.06 Z"/><path class="f" fill="url(#gRb)" d="M0 0L37.08 -14.22 L37.08 -282.28 L0 -268.06 Z"/><path class="e" fill="#f9d62d" d="M0 -268.06 L37.08 -282.28 L8.64 -300.85 L-28.44 -286.63 Z"/><path class="e" fill="none" d="M-28.44 -18.56 L-28.44 -286.63 M0 0L0 -268.06 M37.08 -14.22 L37.08 -282.28"/></g>
<g transform="translate(1520.82,464.96)"><path class="f" fill="url(#gLb)" d="M0 0L-28.44 -18.56 L-28.44 -294.73 L0 -276.16 Z"/><path class="f" fill="url(#gRb)" d="M0 0L37.08 -14.22 L37.08 -290.38 L0 -276.16 Z"/><path class="e" fill="#f5e128" d="M0 -276.16 L37.08 -290.38 L8.64 -308.95 L-28.44 -294.73 Z"/><path class="e" fill="none" d="M-28.44 -18.56 L-28.44 -294.73 M0 0L0 -276.16 M37.08 -14.22 L37.08 -290.38"/></g>
<g transform="translate(1459.02,488.66)"><path class="f" fill="url(#gLb)" d="M0 0L-28.44 -18.56 L-28.44 -301.13 L0 -282.56 Z"/><path class="f" fill="url(#gRb)" d="M0 0L37.08 -14.22 L37.08 -296.78 L0 -282.56 Z"/><path class="e" fill="#f5ea24" d="M0 -282.56 L37.08 -296.78 L8.64 -315.35 L-28.44 -301.13 Z"/><path class="e" fill="none" d="M-28.44 -18.56 L-28.44 -301.13 M0 0L0 -282.56 M37.08 -14.22 L37.08 -296.78"/></g>
<g transform="translate(1397.22,512.36)"><path class="f" fill="url(#gLb)" d="M0 0L-28.44 -18.56 L-28.44 -299.63 L0 -281.06 Z"/><path class="f" fill="url(#gRb)" d="M0 0L37.08 -14.22 L37.08 -295.28 L0 -281.06 Z"/><path class="e" fill="#f5e825" d="M0 -281.06 L37.08 -295.28 L8.64 -313.85 L-28.44 -299.63 Z"/><path class="e" fill="none" d="M-28.44 -18.56 L-28.44 -299.63 M0 0L0 -281.06 M37.08 -14.22 L37.08 -295.28"/></g>
<g transform="translate(1335.42,536.06)"><path class="f" fill="url(#gLb)" d="M0 0L-28.44 -18.56 L-28.44 -304.43 L0 -285.86 Z"/><path class="f" fill="url(#gRb)" d="M0 0L37.08 -14.22 L37.08 -300.08 L0 -285.86 Z"/><path class="e" fill="#f5ee21" d="M0 -285.86 L37.08 -300.08 L8.64 -318.65 L-28.44 -304.43 Z"/><path class="e" fill="none" d="M-28.44 -18.56 L-28.44 -304.43 M0 0L0 -285.86 M37.08 -14.22 L37.08 -300.08"/></g>
<g transform="translate(1273.62,559.76)"><path class="f" fill="url(#gLb)" d="M0 0L-28.44 -18.56 L-28.44 -299.63 L0 -281.06 Z"/><path class="f" fill="url(#gRb)" d="M0 0L37.08 -14.22 L37.08 -295.28 L0 -281.06 Z"/><path class="e" fill="#f5e825" d="M0 -281.06 L37.08 -295.28 L8.64 -313.85 L-28.44 -299.63 Z"/><path class="e" fill="none" d="M-28.44 -18.56 L-28.44 -299.63 M0 0L0 -281.06 M37.08 -14.22 L37.08 -295.28"/></g>
<g transform="translate(1211.82,583.46)"><path class="f" fill="url(#gLb)" d="M0 0L-28.44 -18.56 L-28.44 -302.93 L0 -284.36 Z"/><path class="f" fill="url(#gRb)" d="M0 0L37.08 -14.22 L37.08 -298.58 L0 -284.36 Z"/><path class="e" fill="#f5ec22" d="M0 -284.36 L37.08 -298.58 L8.64 -317.15 L-28.44 -302.93 Z"/><path class="e" fill="none" d="M-28.44 -18.56 L-28.44 -302.93 M0 0L0 -284.36 M37.08 -14.22 L37.08 -298.58"/></g>
<g transform="translate(1630.02,472.2)"><path class="f" fill="url(#gLb)" d="M0 0L-28.44 -18.56 L-28.44 -283.17 L0 -264.6 Z"/><path class="f" fill="url(#gRb)" d="M0 0L37.08 -14.22 L37.08 -278.82 L0 -264.6 Z"/><path class="e" fill="#fbd12f" d="M0 -264.6 L37.08 -278.82 L8.64 -297.39 L-28.44 -283.17 Z"/><path class="e" fill="none" d="M-28.44 -18.56 L-28.44 -283.17 M0 0L0 -264.6 M37.08 -14.22 L37.08 -278.82"/></g>
<g transform="translate(1568.22,495.9)"><path class="f" fill="url(#gLb)" d="M0 0L-28.44 -18.56 L-28.44 -294.37 L0 -275.8 Z"/><path class="f" fill="url(#gRb)" d="M0 0L37.08 -14.22 L37.08 -290.02 L0 -275.8 Z"/><path class="e" fill="#f6e128" d="M0 -275.8 L37.08 -290.02 L8.64 -308.59 L-28.44 -294.37 Z"/><path class="e" fill="none" d="M-28.44 -18.56 L-28.44 -294.37 M0 0L0 -275.8 M37.08 -14.22 L37.08 -290.02"/></g>
<g transform="translate(1506.42,519.6)"><path class="f" fill="url(#gLb)" d="M0 0L-28.44 -18.56 L-28.44 -300.77 L0 -282.2 Z"/><path class="f" fill="url(#gRb)" d="M0 0L37.08 -14.22 L37.08 -296.42 L0 -282.2 Z"/><path class="e" fill="#f5e924" d="M0 -282.2 L37.08 -296.42 L8.64 -314.99 L-28.44 -300.77 Z"/><path class="e" fill="none" d="M-28.44 -18.56 L-28.44 -300.77 M0 0L0 -282.2 M37.08 -14.22 L37.08 -296.42"/></g>
<g transform="translate(1444.62,543.3)"><path class="f" fill="url(#gLb)" d="M0 0L-28.44 -18.56 L-28.44 -299.17 L0 -280.6 Z"/><path class="f" fill="url(#gRb)" d="M0 0L37.08 -14.22 L37.08 -294.82 L0 -280.6 Z"/><path class="e" fill="#f5e725" d="M0 -280.6 L37.08 -294.82 L8.64 -313.39 L-28.44 -299.17 Z"/><path class="e" fill="none" d="M-28.44 -18.56 L-28.44 -299.17 M0 0L0 -280.6 M37.08 -14.22 L37.08 -294.82"/></g>
<g transform="translate(1382.82,567)"><path class="f" fill="url(#gLb)" d="M0 0L-28.44 -18.56 L-28.44 -305.97 L0 -287.4 Z"/><path class="f" fill="url(#gRb)" d="M0 0L37.08 -14.22 L37.08 -301.62 L0 -287.4 Z"/><path class="e" fill="#f6f020" d="M0 -287.4 L37.08 -301.62 L8.64 -320.19 L-28.44 -305.97 Z"/><path class="e" fill="none" d="M-28.44 -18.56 L-28.44 -305.97 M0 0L0 -287.4 M37.08 -14.22 L37.08 -301.62"/></g>
<g transform="translate(1321.02,590.7)"><path class="f" fill="url(#gLb)" d="M0 0L-28.44 -18.56 L-28.44 -300.87 L0 -282.3 Z"/><path class="f" fill="url(#gRb)" d="M0 0L37.08 -14.22 L37.08 -296.52 L0 -282.3 Z"/><path class="e" fill="#f5e924" d="M0 -282.3 L37.08 -296.52 L8.64 -315.09 L-28.44 -300.87 Z"/><path class="e" fill="none" d="M-28.44 -18.56 L-28.44 -300.87 M0 0L0 -282.3 M37.08 -14.22 L37.08 -296.52"/></g>
<g transform="translate(1259.22,614.4)"><path class="f" fill="url(#gLb)" d="M0 0L-28.44 -18.56 L-28.44 -304.87 L0 -286.3 Z"/><path class="f" fill="url(#gRb)" d="M0 0L37.08 -14.22 L37.08 -300.52 L0 -286.3 Z"/><path class="e" fill="#f5ee21" d="M0 -286.3 L37.08 -300.52 L8.64 -319.09 L-28.44 -304.87 Z"/><path class="e" fill="none" d="M-28.44 -18.56 L-28.44 -304.87 M0 0L0 -286.3 M37.08 -14.22 L37.08 -300.52"/></g>
<g transform="translate(1677.42,503.14)"><path class="f" fill="url(#gLb)" d="M0 0L-28.44 -18.56 L-28.44 -273.01 L0 -254.44 Z"/><path class="f" fill="url(#gRb)" d="M0 0L37.08 -14.22 L37.08 -268.66 L0 -254.44 Z"/><path class="e" fill="#fec438" d="M0 -254.44 L37.08 -268.66 L8.64 -287.23 L-28.44 -273.01 Z"/><path class="e" fill="none" d="M-28.44 -18.56 L-28.44 -273.01 M0 0L0 -254.44 M37.08 -14.22 L37.08 -268.66"/></g>
<g transform="translate(1615.62,526.84)"><path class="f" fill="url(#gLb)" d="M0 0L-28.44 -18.56 L-28.44 -293.21 L0 -274.64 Z"/><path class="f" fill="url(#gRb)" d="M0 0L37.08 -14.22 L37.08 -288.86 L0 -274.64 Z"/><path class="e" fill="#f6df29" d="M0 -274.64 L37.08 -288.86 L8.64 -307.43 L-28.44 -293.21 Z"/><path class="e" fill="none" d="M-28.44 -18.56 L-28.44 -293.21 M0 0L0 -274.64 M37.08 -14.22 L37.08 -288.86"/></g>
<g transform="translate(1553.82,550.54)"><path class="f" fill="url(#gLb)" d="M0 0L-28.44 -18.56 L-28.44 -299.81 L0 -281.24 Z"/><path class="f" fill="url(#gRb)" d="M0 0L37.08 -14.22 L37.08 -295.46 L0 -281.24 Z"/><path class="e" fill="#f5e825" d="M0 -281.24 L37.08 -295.46 L8.64 -314.03 L-28.44 -299.81 Z"/><path class="e" fill="none" d="M-28.44 -18.56 L-28.44 -299.81 M0 0L0 -281.24 M37.08 -14.22 L37.08 -295.46"/></g>
<g transform="translate(1492.02,574.24)"><path class="f" fill="url(#gLb)" d="M0 0L-28.44 -18.56 L-28.44 -300.01 L0 -281.44 Z"/><path class="f" fill="url(#gRb)" d="M0 0L37.08 -14.22 L37.08 -295.66 L0 -281.44 Z"/><path class="e" fill="#f5e825" d="M0 -281.44 L37.08 -295.66 L8.64 -314.23 L-28.44 -300.01 Z"/><path class="e" fill="none" d="M-28.44 -18.56 L-28.44 -300.01 M0 0L0 -281.44 M37.08 -14.22 L37.08 -295.66"/></g>
<g transform="translate(1430.22,597.94)"><path class="f" fill="url(#gLb)" d="M0 0L-28.44 -18.56 L-28.44 -305.41 L0 -286.84 Z"/><path class="f" fill="url(#gRb)" d="M0 0L37.08 -14.22 L37.08 -301.06 L0 -286.84 Z"/><path class="e" fill="#f6ef20" d="M0 -286.84 L37.08 -301.06 L8.64 -319.63 L-28.44 -305.41 Z"/><path class="e" fill="none" d="M-28.44 -18.56 L-28.44 -305.41 M0 0L0 -286.84 M37.08 -14.22 L37.08 -301.06"/></g>
<g transform="translate(1368.42,621.64)"><path class="f" fill="url(#gLb)" d="M0 0L-28.44 -18.56 L-28.44 -301.91 L0 -283.34 Z"/><path class="f" fill="url(#gRb)" d="M0 0L37.08 -14.22 L37.08 -297.56 L0 -283.34 Z"/><path class="e" fill="#f5eb23" d="M0 -283.34 L37.08 -297.56 L8.64 -316.13 L-28.44 -301.91 Z"/><path class="e" fill="none" d="M-28.44 -18.56 L-28.44 -301.91 M0 0L0 -283.34 M37.08 -14.22 L37.08 -297.56"/></g>
<g transform="translate(1306.62,645.34)"><path class="f" fill="url(#gLb)" d="M0 0L-28.44 -18.56 L-28.44 -303.31 L0 -284.74 Z"/><path class="f" fill="url(#gRb)" d="M0 0L37.08 -14.22 L37.08 -298.96 L0 -284.74 Z"/><path class="e" fill="#f5ec22" d="M0 -284.74 L37.08 -298.96 L8.64 -317.53 L-28.44 -303.31 Z"/><path class="e" fill="none" d="M-28.44 -18.56 L-28.44 -303.31 M0 0L0 -284.74 M37.08 -14.22 L37.08 -298.96"/></g>
<g transform="translate(1724.82,534.08)"><path class="f" fill="url(#gLb)" d="M0 0L-28.44 -18.56 L-28.44 -259.45 L0 -240.88 Z"/><path class="f" fill="url(#gRb)" d="M0 0L37.08 -14.22 L37.08 -255.1 L0 -240.88 Z"/><path class="e" fill="#f2ba37" d="M0 -240.88 L37.08 -255.1 L8.64 -273.67 L-28.44 -259.45 Z"/><path class="e" fill="none" d="M-28.44 -18.56 L-28.44 -259.45 M0 0L0 -240.88 M37.08 -14.22 L37.08 -255.1"/></g>
<g transform="translate(1663.02,557.78)"><path class="f" fill="url(#gLb)" d="M0 0L-28.44 -18.56 L-28.44 -292.75 L0 -274.18 Z"/><path class="f" fill="url(#gRb)" d="M0 0L37.08 -14.22 L37.08 -288.4 L0 -274.18 Z"/><path class="e" fill="#f6de29" d="M0 -274.18 L37.08 -288.4 L8.64 -306.97 L-28.44 -292.75 Z"/><path class="e" fill="none" d="M-28.44 -18.56 L-28.44 -292.75 M0 0L0 -274.18 M37.08 -14.22 L37.08 -288.4"/></g>
<g transform="translate(1601.22,581.48)"><path class="f" fill="url(#gLb)" d="M0 0L-28.44 -18.56 L-28.44 -298.55 L0 -279.98 Z"/><path class="f" fill="url(#gRb)" d="M0 0L37.08 -14.22 L37.08 -294.2 L0 -279.98 Z"/><path class="e" fill="#f5e626" d="M0 -279.98 L37.08 -294.2 L8.64 -312.77 L-28.44 -298.55 Z"/><path class="e" fill="none" d="M-28.44 -18.56 L-28.44 -298.55 M0 0L0 -279.98 M37.08 -14.22 L37.08 -294.2"/></g>
<g transform="translate(1539.42,605.18)"><path class="f" fill="url(#gLb)" d="M0 0L-28.44 -18.56 L-28.44 -302.05 L0 -283.48 Z"/><path class="f" fill="url(#gRb)" d="M0 0L37.08 -14.22 L37.08 -297.7 L0 -283.48 Z"/><path class="e" fill="#f5eb23" d="M0 -283.48 L37.08 -297.7 L8.64 -316.27 L-28.44 -302.05 Z"/><path class="e" fill="none" d="M-28.44 -18.56 L-28.44 -302.05 M0 0L0 -283.48 M37.08 -14.22 L37.08 -297.7"/></g>
<g transform="translate(1477.62,628.88)"><path class="f" fill="url(#gLb)" d="M0 0L-28.44 -18.56 L-28.44 -303.65 L0 -285.08 Z"/><path class="f" fill="url(#gRb)" d="M0 0L37.08 -14.22 L37.08 -299.3 L0 -285.08 Z"/><path class="e" fill="#f5ed22" d="M0 -285.08 L37.08 -299.3 L8.64 -317.87 L-28.44 -303.65 Z"/><path class="e" fill="none" d="M-28.44 -18.56 L-28.44 -303.65 M0 0L0 -285.08 M37.08 -14.22 L37.08 -299.3"/></g>
<g transform="translate(1415.82,652.58)"><path class="f" fill="url(#gLb)" d="M0 0L-28.44 -18.56 L-28.44 -302.55 L0 -283.98 Z"/><path class="f" fill="url(#gRb)" d="M0 0L37.08 -14.22 L37.08 -298.2 L0 -283.98 Z"/><path class="e" fill="#f5eb23" d="M0 -283.98 L37.08 -298.2 L8.64 -316.77 L-28.44 -302.55 Z"/><path class="e" fill="none" d="M-28.44 -18.56 L-28.44 -302.55 M0 0L0 -283.98 M37.08 -14.22 L37.08 -298.2"/></g>
<g transform="translate(1354.02,676.28)"><path class="f" fill="url(#gLb)" d="M0 0L-28.44 -18.56 L-28.44 -302.45 L0 -283.88 Z"/><path class="f" fill="url(#gRb)" d="M0 0L37.08 -14.22 L37.08 -298.1 L0 -283.88 Z"/><path class="e" fill="#f5eb23" d="M0 -283.88 L37.08 -298.1 L8.64 -316.67 L-28.44 -302.45 Z"/><path class="e" fill="none" d="M-28.44 -18.56 L-28.44 -302.45 M0 0L0 -283.88 M37.08 -14.22 L37.08 -298.1"/></g>
<g transform="translate(1772.22,565.02)"><path class="f" fill="url(#gLb)" d="M0 0L-28.44 -18.56 L-28.44 -262.59 L0 -244.02 Z"/><path class="f" fill="url(#gRb)" d="M0 0L37.08 -14.22 L37.08 -258.24 L0 -244.02 Z"/><path class="e" fill="#f7ba3c" d="M0 -244.02 L37.08 -258.24 L8.64 -276.81 L-28.44 -262.59 Z"/><path class="e" fill="none" d="M-28.44 -18.56 L-28.44 -262.59 M0 0L0 -244.02 M37.08 -14.22 L37.08 -258.24"/></g>
<g transform="translate(1710.42,588.72)"><path class="f" fill="url(#gLb)" d="M0 0L-28.44 -18.56 L-28.44 -289.79 L0 -271.22 Z"/><path class="f" fill="url(#gRb)" d="M0 0L37.08 -14.22 L37.08 -285.44 L0 -271.22 Z"/><path class="e" fill="#f8da2b" d="M0 -271.22 L37.08 -285.44 L8.64 -304.01 L-28.44 -289.79 Z"/><path class="e" fill="none" d="M-28.44 -18.56 L-28.44 -289.79 M0 0L0 -271.22 M37.08 -14.22 L37.08 -285.44"/></g>
<g transform="translate(1648.62,612.42)"><path class="f" fill="url(#gLb)" d="M0 0L-28.44 -18.56 L-28.44 -294.39 L0 -275.82 Z"/><path class="f" fill="url(#gRb)" d="M0 0L37.08 -14.22 L37.08 -290.04 L0 -275.82 Z"/><path class="e" fill="#f6e128" d="M0 -275.82 L37.08 -290.04 L8.64 -308.61 L-28.44 -294.39 Z"/><path class="e" fill="none" d="M-28.44 -18.56 L-28.44 -294.39 M0 0L0 -275.82 M37.08 -14.22 L37.08 -290.04"/></g>
<g transform="translate(1586.82,636.12)"><path class="f" fill="url(#gLb)" d="M0 0L-28.44 -18.56 L-28.44 -301.59 L0 -283.02 Z"/><path class="f" fill="url(#gRb)" d="M0 0L37.08 -14.22 L37.08 -297.24 L0 -283.02 Z"/><path class="e" fill="#f5ea23" d="M0 -283.02 L37.08 -297.24 L8.64 -315.81 L-28.44 -301.59 Z"/><path class="e" fill="none" d="M-28.44 -18.56 L-28.44 -301.59 M0 0L0 -283.02 M37.08 -14.22 L37.08 -297.24"/></g>
<g transform="translate(1525.02,659.82)"><path class="f" fill="url(#gLb)" d="M0 0L-28.44 -18.56 L-28.44 -304.19 L0 -285.62 Z"/><path class="f" fill="url(#gRb)" d="M0 0L37.08 -14.22 L37.08 -299.84 L0 -285.62 Z"/><path class="e" fill="#f5ee21" d="M0 -285.62 L37.08 -299.84 L8.64 -318.41 L-28.44 -304.19 Z"/><path class="e" fill="none" d="M-28.44 -18.56 L-28.44 -304.19 M0 0L0 -285.62 M37.08 -14.22 L37.08 -299.84"/></g>
<g transform="translate(1463.22,683.52)"><path class="f" fill="url(#gLb)" d="M0 0L-28.44 -18.56 L-28.44 -301.89 L0 -283.32 Z"/><path class="f" fill="url(#gRb)" d="M0 0L37.08 -14.22 L37.08 -297.54 L0 -283.32 Z"/><path class="e" fill="#f5eb23" d="M0 -283.32 L37.08 -297.54 L8.64 -316.11 L-28.44 -301.89 Z"/><path class="e" fill="none" d="M-28.44 -18.56 L-28.44 -301.89 M0 0L0 -283.32 M37.08 -14.22 L37.08 -297.54"/></g>
<g transform="translate(1401.42,707.22)"><path class="f" fill="url(#gLb)" d="M0 0L-28.44 -18.56 L-28.44 -302.69 L0 -284.12 Z"/><path class="f" fill="url(#gRb)" d="M0 0L37.08 -14.22 L37.08 -298.34 L0 -284.12 Z"/><path class="e" fill="#f5ec23" d="M0 -284.12 L37.08 -298.34 L8.64 -316.91 L-28.44 -302.69 Z"/><path class="e" fill="none" d="M-28.44 -18.56 L-28.44 -302.69 M0 0L0 -284.12 M37.08 -14.22 L37.08 -298.34"/></g>
<g transform="translate(1819.62,595.96)"><path class="f" fill="url(#gLb)" d="M0 0L-28.44 -18.56 L-28.44 -246.83 L0 -228.26 Z"/><path class="f" fill="url(#gRb)" d="M0 0L37.08 -14.22 L37.08 -242.48 L0 -228.26 Z"/><path class="e" fill="#d7be28" d="M0 -228.26 L37.08 -242.48 L8.64 -261.05 L-28.44 -246.83 Z"/><path class="e" fill="none" d="M-28.44 -18.56 L-28.44 -246.83 M0 0L0 -228.26 M37.08 -14.22 L37.08 -242.48"/></g>
<g transform="translate(1757.82,619.66)"><path class="f" fill="url(#gLb)" d="M0 0L-28.44 -18.56 L-28.44 -286.83 L0 -268.26 Z"/><path class="f" fill="url(#gRb)" d="M0 0L37.08 -14.22 L37.08 -282.48 L0 -268.26 Z"/><path class="e" fill="#f9d62d" d="M0 -268.26 L37.08 -282.48 L8.64 -301.05 L-28.44 -286.83 Z"/><path class="e" fill="none" d="M-28.44 -18.56 L-28.44 -286.83 M0 0L0 -268.26 M37.08 -14.22 L37.08 -282.48"/></g>
<g transform="translate(1696.02,643.36)"><path class="f" fill="url(#gLb)" d="M0 0L-28.44 -18.56 L-28.44 -293.23 L0 -274.66 Z"/><path class="f" fill="url(#gRb)" d="M0 0L37.08 -14.22 L37.08 -288.88 L0 -274.66 Z"/><path class="e" fill="#f6df29" d="M0 -274.66 L37.08 -288.88 L8.64 -307.45 L-28.44 -293.23 Z"/><path class="e" fill="none" d="M-28.44 -18.56 L-28.44 -293.23 M0 0L0 -274.66 M37.08 -14.22 L37.08 -288.88"/></g>
<g transform="translate(1634.22,667.06)"><path class="f" fill="url(#gLb)" d="M0 0L-28.44 -18.56 L-28.44 -301.33 L0 -282.76 Z"/><path class="f" fill="url(#gRb)" d="M0 0L37.08 -14.22 L37.08 -296.98 L0 -282.76 Z"/><path class="e" fill="#f5ea24" d="M0 -282.76 L37.08 -296.98 L8.64 -315.55 L-28.44 -301.33 Z"/><path class="e" fill="none" d="M-28.44 -18.56 L-28.44 -301.33 M0 0L0 -282.76 M37.08 -14.22 L37.08 -296.98"/></g>
<g transform="translate(1572.42,690.76)"><path class="f" fill="url(#gLb)" d="M0 0L-28.44 -18.56 L-28.44 -298.33 L0 -279.76 Z"/><path class="f" fill="url(#gRb)" d="M0 0L37.08 -14.22 L37.08 -293.98 L0 -279.76 Z"/><path class="e" fill="#f5e626" d="M0 -279.76 L37.08 -293.98 L8.64 -312.55 L-28.44 -298.33 Z"/><path class="e" fill="none" d="M-28.44 -18.56 L-28.44 -298.33 M0 0L0 -279.76 M37.08 -14.22 L37.08 -293.98"/></g>
<g transform="translate(1510.62,714.46)"><path class="f" fill="url(#gLb)" d="M0 0L-28.44 -18.56 L-28.44 -303.13 L0 -284.56 Z"/><path class="f" fill="url(#gRb)" d="M0 0L37.08 -14.22 L37.08 -298.78 L0 -284.56 Z"/><path class="e" fill="#f5ec22" d="M0 -284.56 L37.08 -298.78 L8.64 -317.35 L-28.44 -303.13 Z"/><path class="e" fill="none" d="M-28.44 -18.56 L-28.44 -303.13 M0 0L0 -284.56 M37.08 -14.22 L37.08 -298.78"/></g>
<g transform="translate(1448.82,738.16)"><path class="f" fill="url(#gLb)" d="M0 0L-28.44 -18.56 L-28.44 -301.83 L0 -283.26 Z"/><path class="f" fill="url(#gRb)" d="M0 0L37.08 -14.22 L37.08 -297.48 L0 -283.26 Z"/><path class="e" fill="#f5ea23" d="M0 -283.26 L37.08 -297.48 L8.64 -316.05 L-28.44 -301.83 Z"/><path class="e" fill="none" d="M-28.44 -18.56 L-28.44 -301.83 M0 0L0 -283.26 M37.08 -14.22 L37.08 -297.48"/></g>
</g>
<path class="a" d="M1102.8 179.5 L1102.8 512.3 L1482 759.82 L1889.88 603.4 M1102.8 512.3 L1095.68 507.65 M1102.8 429.1 L1095.68 424.45 M1102.8 345.9 L1095.68 341.25 M1102.8 262.7 L1095.68 258.05 M1102.8 179.5 L1095.68 174.85 M1150.2 543.24 L1142.26 546.28 M1197.6 574.18 L1189.66 577.22 M1245 605.12 L1237.06 608.16 M1292.4 636.06 L1284.46 639.1 M1339.8 667 L1331.86 670.04 M1387.2 697.94 L1379.26 700.98 M1434.6 728.88 L1426.66 731.92 M1500.54 752.71 L1507.66 757.36 M1562.34 729.01 L1569.46 733.66 M1624.14 705.31 L1631.26 709.96 M1685.94 681.61 L1693.06 686.26 M1747.74 657.91 L1754.86 662.56 M1809.54 634.21 L1816.66 638.86 M1871.34 610.51 L1878.46 615.16"/>
<text class="t" transform="translate(1086.3,513.8) scale(0.880,1)" font-size="32" text-anchor="end">0.8</text>
<text class="t" transform="translate(1086.3,430.6) scale(0.880,1)" font-size="32" text-anchor="end">0.85</text>
<text class="t" transform="translate(1086.3,347.4) scale(0.880,1)" font-size="32" text-anchor="end">0.9</text>
<text class="t" transform="translate(1086.3,264.2) scale(0.880,1)" font-size="32" text-anchor="end">0.95</text>
<text class="t" transform="translate(1086.3,181) scale(0.880,1)" font-size="32" text-anchor="end">1</text>
<text class="t" transform="translate(1099.7,578.14) scale(0.880,1)" font-size="32" text-anchor="middle">0.001</text>
<text class="t" transform="translate(1146.72,608.93) scale(0.880,1)" font-size="32" text-anchor="middle">0.01</text>
<text class="t" transform="translate(1193.74,639.72) scale(0.880,1)" font-size="32" text-anchor="middle">0.1</text>
<text class="t" transform="translate(1240.76,670.51) scale(0.880,1)" font-size="32" text-anchor="middle">1</text>
<text class="t" transform="translate(1287.78,701.3) scale(0.880,1)" font-size="32" text-anchor="middle">10</text>
<text class="t" transform="translate(1334.8,732.09) scale(0.880,1)" font-size="32" text-anchor="middle">100</text>
<text class="t" transform="translate(1381.82,762.88) scale(0.880,1)" font-size="32" text-anchor="middle">1000</text>
<text class="t" transform="translate(1515.14,789.71) scale(0.880,1)" font-size="32" text-anchor="start">0.001</text>
<text class="t" transform="translate(1576.94,766.01) scale(0.880,1)" font-size="32" text-anchor="start">0.01</text>
<text class="t" transform="translate(1638.74,742.31) scale(0.880,1)" font-size="32" text-anchor="start">0.1</text>
<text class="t" transform="translate(1700.54,718.61) scale(0.880,1)" font-size="32" text-anchor="start">1</text>
<text class="t" transform="translate(1762.34,694.91) scale(0.880,1)" font-size="32" text-anchor="start">10</text>
<text class="t" transform="translate(1824.14,671.21) scale(0.880,1)" font-size="32" text-anchor="start">100</text>
<text class="t" transform="translate(1885.94,647.51) scale(0.880,1)" font-size="32" text-anchor="start">1000</text>
<text class="t" transform="translate(1708.5,794.8) scale(1.080,1)" font-size="36" text-anchor="middle"><tspan font-style="italic">λ</tspan>3</text>
<text class="t" transform="translate(1263.9,771.9) scale(1.080,1)" font-size="36" text-anchor="middle"><tspan font-style="italic">λ</tspan>4</text>
<text class="t" transform="translate(1018.8,346.8) rotate(-90)" font-size="34.8" text-anchor="middle">MSSIM</text>
<text class="t" x="1461.5" y="868.1" font-size="44" text-anchor="middle">(b)</text>
</g>
</svg></body></html>
